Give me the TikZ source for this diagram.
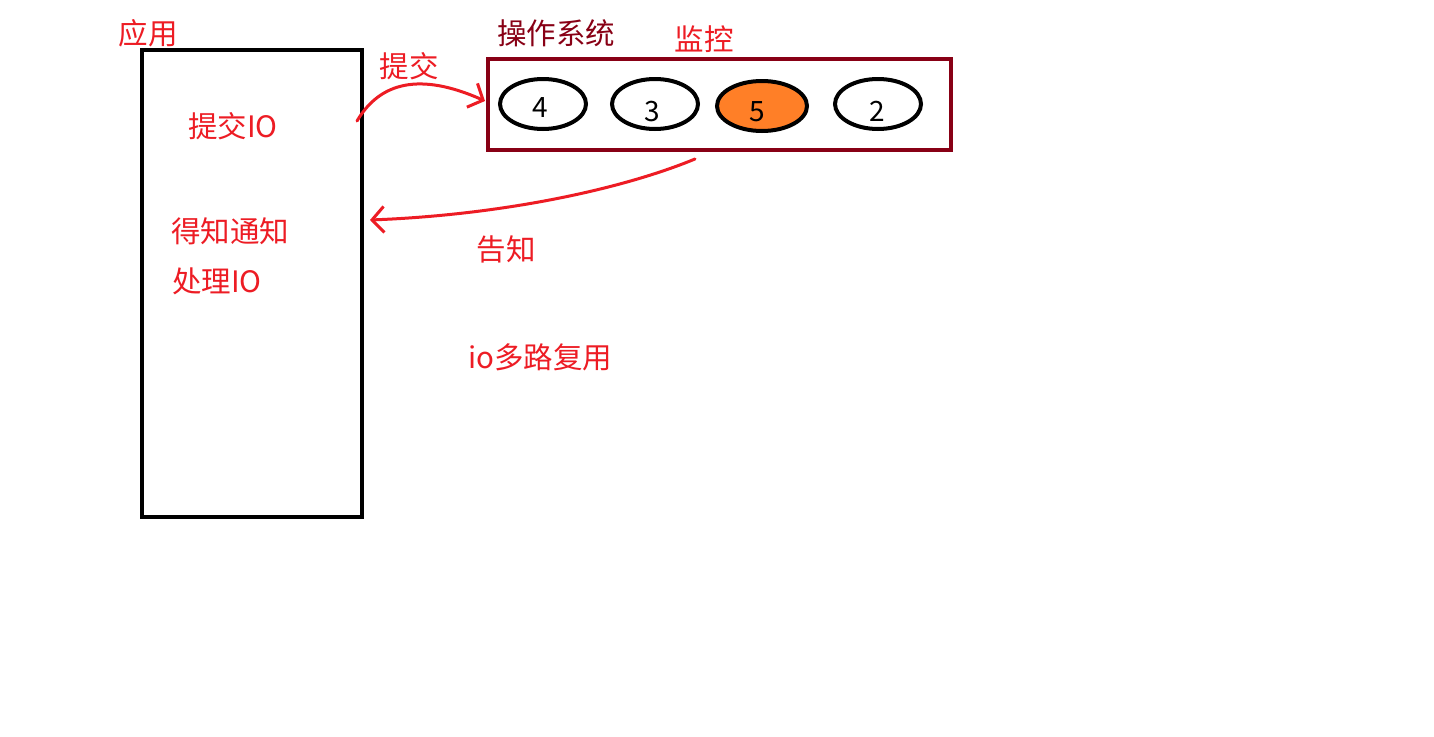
\documentclass[tikz,border=0pt]{standalone}
\usepackage{fontspec}
\setmainfont{Noto Sans CJK SC}
\usetikzlibrary{arrows.meta}
\definecolor{pred}{HTML}{ED1C24}
\definecolor{pdark}{HTML}{880015}
\definecolor{porange}{HTML}{FF7F27}
\tikzset{
  lbl/.style={text=pred, inner sep=0pt, font=\fontsize{29.5}{32}\selectfont},
  box/.style={draw, line width=4pt, inner sep=0pt, outer sep=0pt, anchor=north west},
  slot/.style={draw=black, line width=4pt, ellipse, outer sep=0pt, minimum width=86pt, minimum height=50pt, inner sep=0pt},
  num/.style={inner sep=0pt, font=\fontsize{28}{30}\selectfont},
  conn/.style={draw=pred, line width=3pt, line cap=round, -{Straight Barb[length=12pt,width=26pt,line width=3pt]}}
}
\usetikzlibrary{shapes.geometric}
\begin{document}
\begin{tikzpicture}[x=1pt,y=-1pt]
\useasboundingbox[fill=white] (0,0) rectangle (1434,736);
% application box
\node[box, draw=black, minimum width=220pt, minimum height=467pt] (app) at (142,50) {};
\node[lbl] (applbl) at (148,33) {应用};
\node[lbl] (submitio) at (233,126) {提交IO};
\node[lbl] (notify) at (230,231) {得知通知};
\node[lbl] (handle) at (217,281) {处理IO};
% OS box
\node[box, draw=pdark, minimum width=463pt, minimum height=91pt] (os) at (488,59) {};
\node[lbl, text=pdark] (oslbl) at (556,33) {操作系统};
\node[lbl] (monitor) at (704,39) {监控};
\node[slot] (e4) at (543,104) {};
\node[slot] (e3) at (655,104) {};
\node[slot, fill=porange, minimum width=90pt] (e5) at (762,106) {};
\node[slot] (e2) at (878,104) {};
\node[num] (n4) at (540,108) {4};
\node[num] (n3) at (652,112) {3};
\node[num] (n5) at (757,112) {5};
\node[num] (n2) at (877,111) {2};
% connectors
\coordinate (s1) at (357,121);
\coordinate (t1) at (485,101);
\coordinate (s2) at (695,159);
\coordinate (t2) at (370,220);
\draw[conn] (s1) .. controls (380,82) and (420,72) .. (t1);
\draw[conn] (s2) .. controls (620,190) and (500,215) .. (t2);
\node[lbl] (submit) at (409,66) {提交};
\node[lbl] (tell) at (506,249) {告知};
\node[lbl] (mux) at (540,357) {io多路复用};
\end{tikzpicture}
\end{document}
